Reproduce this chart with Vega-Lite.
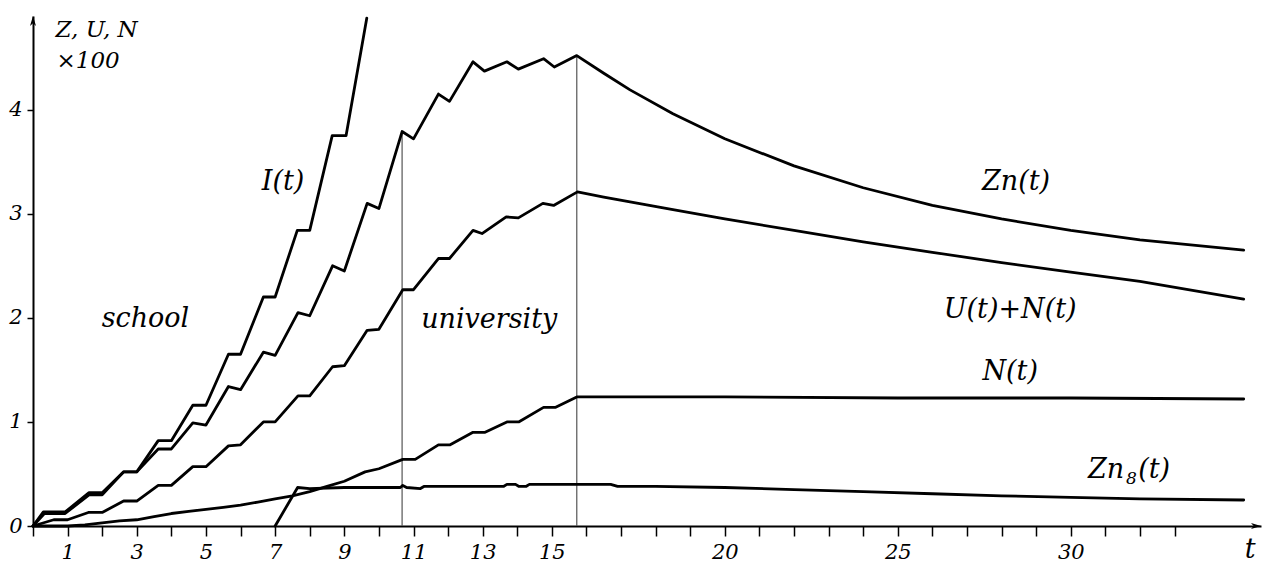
{
  "$schema": "https://vega.github.io/schema/vega-lite/v6.json",
  "width": 1228,
  "height": 510,
  "autosize": {"type": "none"},
  "padding": {"left": 33, "top": 16, "right": 2, "bottom": 39},
  "background": "white",
  "config": {"view": {"stroke": null}, "font": "DejaVu Serif"},
  "datasets": {
    "curves": [
      {"series": "I", "t": 0, "v": 0}, {"series": "I", "t": 0.3, "v": 0.135}, {"series": "I", "t": 0.93, "v": 0.135},
      {"series": "I", "t": 1.62, "v": 0.32}, {"series": "I", "t": 2.0, "v": 0.32}, {"series": "I", "t": 2.62, "v": 0.52},
      {"series": "I", "t": 3.0, "v": 0.52}, {"series": "I", "t": 3.62, "v": 0.82}, {"series": "I", "t": 4.0, "v": 0.82},
      {"series": "I", "t": 4.62, "v": 1.16}, {"series": "I", "t": 5.0, "v": 1.16}, {"series": "I", "t": 5.65, "v": 1.65},
      {"series": "I", "t": 6.0, "v": 1.65}, {"series": "I", "t": 6.66, "v": 2.2}, {"series": "I", "t": 7.0, "v": 2.2},
      {"series": "I", "t": 7.64, "v": 2.84}, {"series": "I", "t": 8.0, "v": 2.84}, {"series": "I", "t": 8.65, "v": 3.75},
      {"series": "I", "t": 9.05, "v": 3.75}, {"series": "I", "t": 9.65, "v": 4.88},

      {"series": "Zn", "t": 0, "v": 0}, {"series": "Zn", "t": 0.33, "v": 0.12}, {"series": "Zn", "t": 0.93, "v": 0.12},
      {"series": "Zn", "t": 1.62, "v": 0.3}, {"series": "Zn", "t": 2.0, "v": 0.3}, {"series": "Zn", "t": 2.62, "v": 0.52},
      {"series": "Zn", "t": 3.0, "v": 0.52}, {"series": "Zn", "t": 3.62, "v": 0.74}, {"series": "Zn", "t": 4.0, "v": 0.74},
      {"series": "Zn", "t": 4.62, "v": 0.99}, {"series": "Zn", "t": 5.0, "v": 0.97}, {"series": "Zn", "t": 5.65, "v": 1.34},
      {"series": "Zn", "t": 6.0, "v": 1.31}, {"series": "Zn", "t": 6.66, "v": 1.67}, {"series": "Zn", "t": 7.0, "v": 1.64},
      {"series": "Zn", "t": 7.66, "v": 2.05}, {"series": "Zn", "t": 8.0, "v": 2.02}, {"series": "Zn", "t": 8.66, "v": 2.5},
      {"series": "Zn", "t": 9.0, "v": 2.45}, {"series": "Zn", "t": 9.66, "v": 3.1}, {"series": "Zn", "t": 10.0, "v": 3.05},
      {"series": "Zn", "t": 10.67, "v": 3.79}, {"series": "Zn", "t": 11.0, "v": 3.72}, {"series": "Zn", "t": 11.72, "v": 4.15},
      {"series": "Zn", "t": 12.04, "v": 4.08}, {"series": "Zn", "t": 12.72, "v": 4.46}, {"series": "Zn", "t": 13.05, "v": 4.37},
      {"series": "Zn", "t": 13.7, "v": 4.46}, {"series": "Zn", "t": 14.03, "v": 4.39}, {"series": "Zn", "t": 14.76, "v": 4.49},
      {"series": "Zn", "t": 15.07, "v": 4.41}, {"series": "Zn", "t": 15.72, "v": 4.52}, {"series": "Zn", "t": 16.5, "v": 4.35},
      {"series": "Zn", "t": 17.26, "v": 4.19}, {"series": "Zn", "t": 18.5, "v": 3.96}, {"series": "Zn", "t": 20, "v": 3.72},
      {"series": "Zn", "t": 22, "v": 3.46}, {"series": "Zn", "t": 24, "v": 3.25}, {"series": "Zn", "t": 26, "v": 3.08},
      {"series": "Zn", "t": 28, "v": 2.95}, {"series": "Zn", "t": 30, "v": 2.84}, {"series": "Zn", "t": 32, "v": 2.75},
      {"series": "Zn", "t": 35, "v": 2.65},

      {"series": "UN", "t": 0, "v": 0}, {"series": "UN", "t": 0.6, "v": 0.06}, {"series": "UN", "t": 1.0, "v": 0.06},
      {"series": "UN", "t": 1.6, "v": 0.13}, {"series": "UN", "t": 2.0, "v": 0.13}, {"series": "UN", "t": 2.62, "v": 0.24},
      {"series": "UN", "t": 3.0, "v": 0.24}, {"series": "UN", "t": 3.62, "v": 0.39}, {"series": "UN", "t": 4.0, "v": 0.39},
      {"series": "UN", "t": 4.62, "v": 0.57}, {"series": "UN", "t": 5.0, "v": 0.57}, {"series": "UN", "t": 5.65, "v": 0.77},
      {"series": "UN", "t": 6.0, "v": 0.78}, {"series": "UN", "t": 6.66, "v": 1.0}, {"series": "UN", "t": 7.0, "v": 1.0},
      {"series": "UN", "t": 7.66, "v": 1.25}, {"series": "UN", "t": 8.0, "v": 1.25}, {"series": "UN", "t": 8.66, "v": 1.53},
      {"series": "UN", "t": 9.0, "v": 1.54}, {"series": "UN", "t": 9.66, "v": 1.88}, {"series": "UN", "t": 10.0, "v": 1.89},
      {"series": "UN", "t": 10.69, "v": 2.27}, {"series": "UN", "t": 11.0, "v": 2.27}, {"series": "UN", "t": 11.72, "v": 2.57},
      {"series": "UN", "t": 12.04, "v": 2.57}, {"series": "UN", "t": 12.72, "v": 2.84}, {"series": "UN", "t": 12.98, "v": 2.81},
      {"series": "UN", "t": 13.68, "v": 2.97}, {"series": "UN", "t": 14.03, "v": 2.96}, {"series": "UN", "t": 14.74, "v": 3.1},
      {"series": "UN", "t": 15.05, "v": 3.08}, {"series": "UN", "t": 15.74, "v": 3.21}, {"series": "UN", "t": 16.5, "v": 3.16},
      {"series": "UN", "t": 17.5, "v": 3.1}, {"series": "UN", "t": 18.5, "v": 3.04}, {"series": "UN", "t": 20, "v": 2.95},
      {"series": "UN", "t": 22, "v": 2.84}, {"series": "UN", "t": 24, "v": 2.73}, {"series": "UN", "t": 26, "v": 2.63},
      {"series": "UN", "t": 28, "v": 2.53}, {"series": "UN", "t": 30, "v": 2.44}, {"series": "UN", "t": 32, "v": 2.35},
      {"series": "UN", "t": 35, "v": 2.18},

      {"series": "N", "t": 0, "v": 0}, {"series": "N", "t": 1.0, "v": 0.0}, {"series": "N", "t": 1.5, "v": 0.01},
      {"series": "N", "t": 2.0, "v": 0.03}, {"series": "N", "t": 2.5, "v": 0.05}, {"series": "N", "t": 3.0, "v": 0.06},
      {"series": "N", "t": 3.5, "v": 0.09}, {"series": "N", "t": 4.0, "v": 0.12}, {"series": "N", "t": 4.5, "v": 0.14},
      {"series": "N", "t": 5.0, "v": 0.16}, {"series": "N", "t": 5.5, "v": 0.18}, {"series": "N", "t": 6.0, "v": 0.2},
      {"series": "N", "t": 6.5, "v": 0.23}, {"series": "N", "t": 7.0, "v": 0.26}, {"series": "N", "t": 7.5, "v": 0.29},
      {"series": "N", "t": 8.0, "v": 0.33}, {"series": "N", "t": 8.5, "v": 0.38}, {"series": "N", "t": 9.0, "v": 0.43},
      {"series": "N", "t": 9.6, "v": 0.52}, {"series": "N", "t": 10.0, "v": 0.55}, {"series": "N", "t": 10.69, "v": 0.64},
      {"series": "N", "t": 11.05, "v": 0.64}, {"series": "N", "t": 11.72, "v": 0.78}, {"series": "N", "t": 12.06, "v": 0.78},
      {"series": "N", "t": 12.72, "v": 0.9}, {"series": "N", "t": 13.07, "v": 0.9}, {"series": "N", "t": 13.7, "v": 1.0},
      {"series": "N", "t": 14.04, "v": 1.0}, {"series": "N", "t": 14.76, "v": 1.14}, {"series": "N", "t": 15.11, "v": 1.14},
      {"series": "N", "t": 15.72, "v": 1.24}, {"series": "N", "t": 20, "v": 1.24}, {"series": "N", "t": 25, "v": 1.23},
      {"series": "N", "t": 30, "v": 1.23}, {"series": "N", "t": 35, "v": 1.22},

      {"series": "Zn8", "t": 7.0, "v": 0}, {"series": "Zn8", "t": 7.65, "v": 0.37}, {"series": "Zn8", "t": 8.0, "v": 0.36},
      {"series": "Zn8", "t": 9.0, "v": 0.37}, {"series": "Zn8", "t": 10.62, "v": 0.37}, {"series": "Zn8", "t": 10.69, "v": 0.39},
      {"series": "Zn8", "t": 10.8, "v": 0.37}, {"series": "Zn8", "t": 11.2, "v": 0.36}, {"series": "Zn8", "t": 11.3, "v": 0.38},
      {"series": "Zn8", "t": 13.6, "v": 0.38}, {"series": "Zn8", "t": 13.7, "v": 0.4}, {"series": "Zn8", "t": 13.95, "v": 0.4},
      {"series": "Zn8", "t": 14.05, "v": 0.38}, {"series": "Zn8", "t": 14.25, "v": 0.38}, {"series": "Zn8", "t": 14.35, "v": 0.4},
      {"series": "Zn8", "t": 16.7, "v": 0.4}, {"series": "Zn8", "t": 16.9, "v": 0.38}, {"series": "Zn8", "t": 18, "v": 0.38},
      {"series": "Zn8", "t": 20, "v": 0.37}, {"series": "Zn8", "t": 22, "v": 0.35}, {"series": "Zn8", "t": 24, "v": 0.33},
      {"series": "Zn8", "t": 26, "v": 0.31}, {"series": "Zn8", "t": 28, "v": 0.29}, {"series": "Zn8", "t": 30, "v": 0.275},
      {"series": "Zn8", "t": 32, "v": 0.26}, {"series": "Zn8", "t": 35, "v": 0.25}
    ],
    "periods": [
      {"t": 10.67, "v": 3.79},
      {"t": 15.72, "v": 4.52}
    ],
    "labels": [
      {"t": 7.23, "v": 3.23, "label": "I(t)"},
      {"t": 3.25, "v": 1.91, "label": "school"},
      {"t": 13.19, "v": 1.9, "label": "university"},
      {"t": 28.42, "v": 3.23, "label": "Zn(t)"},
      {"t": 28.25, "v": 2.0, "label": "U(t)+N(t)"},
      {"t": 28.25, "v": 1.4, "label": "N(t)"},
      {"t": 35.19, "v": -0.31, "label": "t"}
    ],
    "leftlabels": [
      {"t": 0.65, "v": 4.7, "label": "Z, U, N", "size": 23},
      {"t": 0.68, "v": 4.4, "label": "×100", "size": 23},
      {"t": 30.5, "v": 0.46, "label": "Zn", "size": 27},
      {"t": 31.6, "v": 0.4, "label": "8", "size": 17},
      {"t": 31.95, "v": 0.46, "label": "(t)", "size": 27}
    ],
    "arrows": [
      {"t": 35.5, "v": 0, "dir": "x"},
      {"t": 0, "v": 4.9, "dir": "y"}
    ]
  },
  "encoding": {
    "x": {
      "field": "t", "type": "quantitative",
      "scale": {"domain": [0, 35.5], "nice": false, "zero": false},
      "axis": {
        "values": [0,1,2,3,4,5,6,7,8,9,10,11,12,13,14,15,16,17,18,19,20,21,22,23,24,25,26,27,28,29,30,31,32,33],
        "labelExpr": "indexof([1,3,5,7,9,11,13,15,20,25,30], datum.value) >= 0 ? datum.label : ''",
        "title": null, "grid": false,
        "tickSize": 10, "tickWidth": 1.5, "tickColor": "black",
        "domainColor": "black", "domainWidth": 2,
        "labelFont": "DejaVu Serif", "labelFontStyle": "italic", "labelFontSize": 21,
        "labelColor": "black", "labelPadding": 5, "labelOverlap": false, "labelFlush": false
      }
    },
    "y": {
      "field": "v", "type": "quantitative",
      "scale": {"domain": [0, 4.9], "nice": false, "zero": false},
      "axis": {
        "values": [0, 1, 2, 3, 4],
        "title": null, "grid": false,
        "tickSize": 6, "tickWidth": 1.5, "tickColor": "black",
        "domainColor": "black", "domainWidth": 2,
        "labelFont": "DejaVu Serif", "labelFontStyle": "italic", "labelFontSize": 21,
        "labelColor": "black", "labelPadding": 5
      }
    }
  },
  "layer": [
    {
      "data": {"name": "periods"},
      "mark": {"type": "rule", "color": "#555555", "strokeWidth": 1.2},
      "encoding": {"y": {"datum": 0}, "y2": {"field": "v"}}
    },
    {
      "data": {"name": "curves"},
      "mark": {"type": "line", "color": "black", "strokeWidth": 2.8, "strokeJoin": "round", "strokeCap": "round"},
      "encoding": {"detail": {"field": "series"}}
    },
    {
      "data": {"name": "labels"},
      "mark": {"type": "text", "font": "DejaVu Serif", "fontStyle": "italic", "fontSize": 27, "color": "black", "align": "center", "baseline": "alphabetic"},
      "encoding": {"text": {"field": "label"}}
    },
    {
      "data": {"name": "leftlabels"},
      "mark": {"type": "text", "font": "DejaVu Serif", "fontStyle": "italic", "color": "black", "align": "left", "baseline": "alphabetic"},
      "encoding": {"text": {"field": "label"}, "size": {"field": "size", "type": "quantitative", "scale": null}}
    },
    {
      "data": {"name": "arrows"},
      "transform": [{"filter": "datum.dir == 'x'"}],
      "mark": {"type": "point", "shape": "M0,0 L-2,-0.6 L-1.45,0 L-2,0.6 Z", "size": 100, "filled": true, "color": "black", "opacity": 1}
    },
    {
      "data": {"name": "arrows"},
      "transform": [{"filter": "datum.dir == 'y'"}],
      "mark": {"type": "point", "shape": "M0,0 L-0.6,2 L0,1.45 L0.6,2 Z", "size": 100, "filled": true, "color": "black", "opacity": 1}
    }
  ]
}
